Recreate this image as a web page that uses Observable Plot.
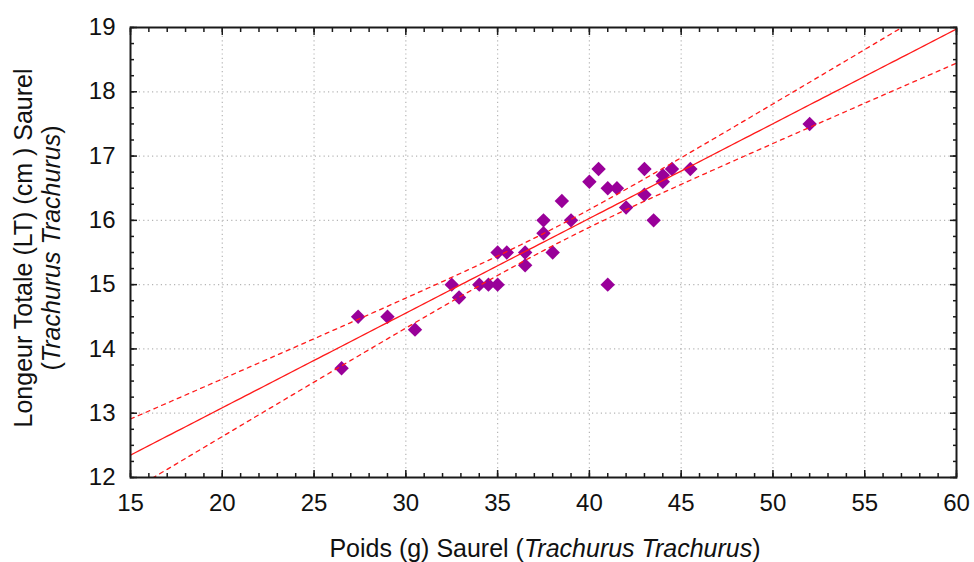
<!DOCTYPE html>
<html><head><meta charset="utf-8">
<script src="https://cdn.jsdelivr.net/npm/d3@7"></script>
<script src="https://cdn.jsdelivr.net/npm/@observablehq/plot@0.6"></script>
<style>body{margin:0;background:#fff;} svg{display:block;}</style>
</head><body><div id="chart"></div>
<script>
// Data
const poids = [26.5, 27.4, 29, 30.5, 32.5, 32.9, 34, 34.5, 35, 35, 35.5, 36.5, 36.5, 37.5, 37.5, 38,
               38.5, 39, 40, 40.5, 41, 41, 41.5, 42, 43, 43, 43.5, 44, 44, 44.5, 45.5, 52];
const longueur = [13.7, 14.5, 14.5, 14.3, 15.0, 14.8, 15.0, 15.0, 15.0, 15.5, 15.5, 15.5, 15.3, 16.0, 15.8, 15.5,
                  16.3, 16.0, 16.6, 16.8, 16.5, 15.0, 16.5, 16.2, 16.8, 16.4, 16.0, 16.7, 16.6, 16.8, 16.8, 17.5];
const xTicks = [15, 20, 25, 30, 35, 40, 45, 50, 55, 60];
const yTicks = [12, 13, 14, 15, 16, 17, 18, 19];
const xMinor = d3.range(15, 60.001, 1);
const yMinor = d3.range(12, 19.001, 0.25);
const xDomain = [15, 60];
const yDomain = [12, 19];
const xTitleParts = [["Poids (g) Saurel (", false], ["Trachurus Trachurus", true], [")", false]];
const yTitleLine1 = "Longeur Totale (LT) (cm ) Saurel";
const yTitleLine2Parts = [["(", false], ["Trachurus Trachurus", true], [")", false]];

const points = poids.map((p, i) => ({poids: p, longueur: longueur[i]}));

// Least-squares fit with 95% confidence interval of the mean
const n = points.length;
const mx = d3.mean(poids), my = d3.mean(longueur);
const sxx = d3.sum(poids, v => (v - mx) ** 2);
const sxy = d3.sum(points, d => (d.poids - mx) * (d.longueur - my));
const slope = sxy / sxx, intercept = my - slope * mx;
const sse = d3.sum(points, d => (d.longueur - (intercept + slope * d.poids)) ** 2);
const s = Math.sqrt(sse / (n - 2));
const tCrit = 2.0423; // t(0.975, df=30)
const fit = d3.range(xDomain[0], xDomain[1] + 0.001, 0.25).map(x => {
  const yhat = intercept + slope * x;
  const h = tCrit * s * Math.sqrt(1 / n + (x - mx) ** 2 / sxx);
  return {x, yhat, lo: yhat - h, hi: yhat + h};
});

const font = "'Liberation Sans', Arial, Helvetica, sans-serif";
const red = "#ff1a1a";
const fmt = d3.format("d");

const chart = Plot.plot({
  width: 974, height: 562,
  marginLeft: 130, marginRight: 18, marginTop: 27, marginBottom: 85,
  style: {fontFamily: font, background: "#fff", color: "#111"},
  x: {domain: xDomain},
  y: {domain: yDomain},
  marks: [
    Plot.ruleX(xTicks.slice(1, -1), {stroke: "#b5b5b5", strokeWidth: 1.2, strokeDasharray: "1.2,3.2"}),
    Plot.ruleY(yTicks.slice(1, -1), {stroke: "#b5b5b5", strokeWidth: 1.2, strokeDasharray: "1.2,3.2"}),
    Plot.dot(points, {x: "poids", y: "longueur", symbol: "diamond2", r: 6.5, fill: "#990099", stroke: "none"}),
    Plot.line(fit, {x: "x", y: "yhat", stroke: red, strokeWidth: 1.3, clip: true}),
    Plot.line(fit, {x: "x", y: "hi", stroke: red, strokeWidth: 1.3, strokeDasharray: "4,4.5", clip: true}),
    Plot.line(fit, {x: "x", y: "lo", stroke: red, strokeWidth: 1.3, strokeDasharray: "4,4.5", clip: true}),
    // inward ticks on all four sides
    Plot.axisX(xMinor, {anchor: "bottom", tickSize: -4, text: null, label: null, stroke: "#1a1a1a", strokeWidth: 1.5}),
    Plot.axisX(xMinor, {anchor: "top", tickSize: -4, text: null, label: null, stroke: "#1a1a1a", strokeWidth: 1.5}),
    Plot.axisX(xTicks, {anchor: "bottom", tickSize: -7, text: null, label: null, stroke: "#1a1a1a", strokeWidth: 1.5}),
    Plot.axisX(xTicks, {anchor: "top", tickSize: -7, text: null, label: null, stroke: "#1a1a1a", strokeWidth: 1.5}),
    Plot.axisY(yMinor, {anchor: "left", tickSize: -4, text: null, label: null, stroke: "#1a1a1a", strokeWidth: 1.5}),
    Plot.axisY(yMinor, {anchor: "right", tickSize: -4, text: null, label: null, stroke: "#1a1a1a", strokeWidth: 1.5}),
    Plot.axisY(yTicks, {anchor: "left", tickSize: -7, text: null, label: null, stroke: "#1a1a1a", strokeWidth: 1.5}),
    Plot.axisY(yTicks, {anchor: "right", tickSize: -7, text: null, label: null, stroke: "#1a1a1a", strokeWidth: 1.5}),
    // tick labels
    Plot.axisX(xTicks, {anchor: "bottom", tickSize: 0, tickPadding: 16, tickFormat: fmt, label: null, fontSize: 24, fill: "#111"}),
    Plot.axisY(yTicks, {anchor: "left", tickSize: 0, tickPadding: 15, tickFormat: fmt, label: null, fontSize: 24, fill: "#111"}),
    Plot.frame({stroke: "#1a1a1a", strokeWidth: 2})
  ]
});

const svg = d3.select(chart);
// x-axis title
const xt = svg.append("text")
  .attr("x", 545).attr("y", 557)
  .attr("text-anchor", "middle")
  .attr("font-family", font).attr("font-size", 25).attr("fill", "#111");
xTitleParts.forEach(([t, it]) => xt.append("tspan").attr("font-style", it ? "italic" : "normal").text(t));
// y-axis title (two lines)
svg.append("text")
  .attr("transform", "translate(32,248) rotate(-90)")
  .attr("text-anchor", "middle")
  .attr("font-family", font).attr("font-size", 25).attr("fill", "#111")
  .text(yTitleLine1);
const yt2 = svg.append("text")
  .attr("transform", "translate(60,248) rotate(-90)")
  .attr("text-anchor", "middle")
  .attr("font-family", font).attr("font-size", 25).attr("fill", "#111");
yTitleLine2Parts.forEach(([t, it]) => yt2.append("tspan").attr("font-style", it ? "italic" : "normal").text(t));

document.getElementById("chart").appendChild(chart);
</script>
</body></html>
